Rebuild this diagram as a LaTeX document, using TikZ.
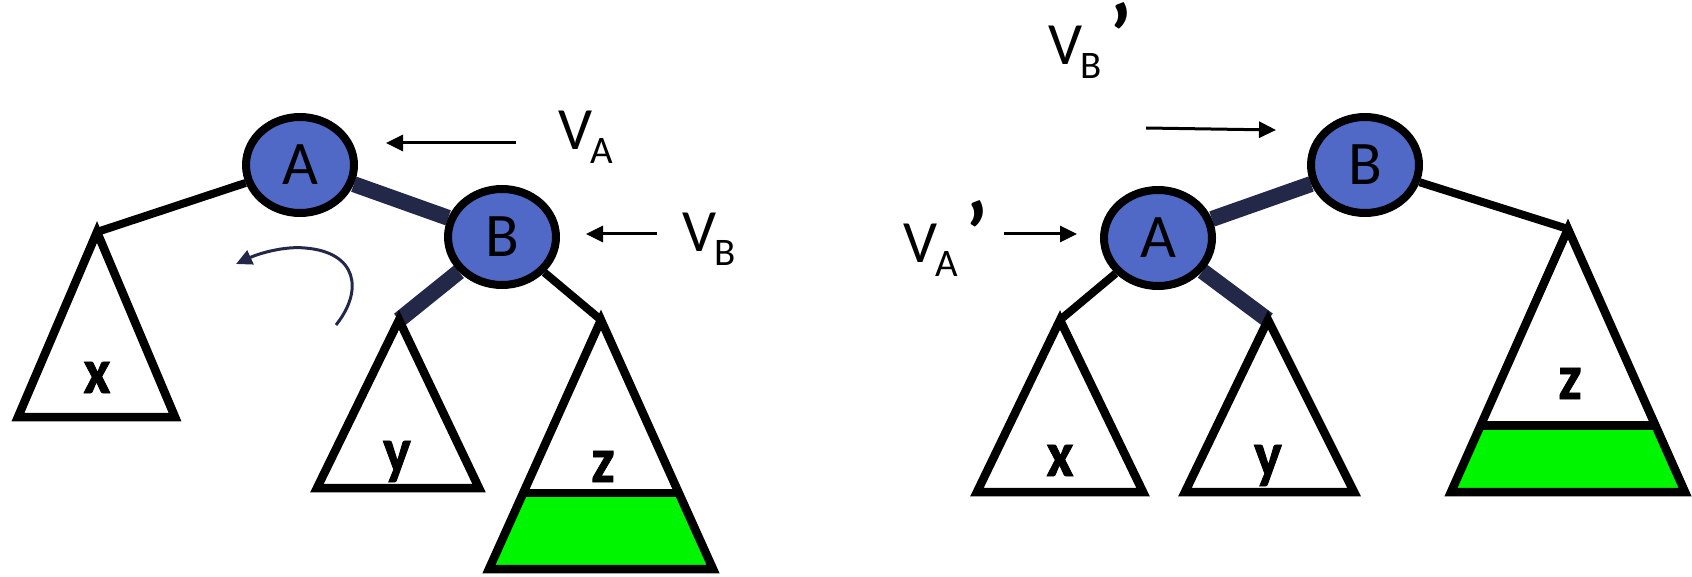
\documentclass[tikz,border=0pt]{standalone}
\usepackage{fontspec}
\setmainfont{Carlito}
\newfontfamily\leaffont[FakeStretch=0.92,FakeBold=1.2]{Carlito}
\usetikzlibrary{arrows.meta, calc, backgrounds, shapes.geometric}
\definecolor{nodecolor}{RGB}{80,104,198}
\definecolor{pathcolor}{RGB}{36,40,72}
\definecolor{growcolor}{RGB}{0,245,0}
\newcommand{\vlabel}[2]{V\kern-2pt\raisebox{-14pt}{\fontsize{39}{39}\selectfont #1}#2}
\newcommand{\vprime}{\kern8pt\raisebox{-2pt}{\fontsize{88}{88}\selectfont\bfseries ’}}

\begin{document}
\begin{tikzpicture}[
    x=1pt, y=-1pt,
    treenode/.style={ellipse, draw, line width=8pt, fill=nodecolor, minimum width=108pt, minimum height=96pt, inner sep=0pt, font=\fontsize{62}{62}\selectfont},
    edge/.style={line width=8pt},
    pathedge/.style={line width=16pt, draw=pathcolor},
    subtree/.style={line width=8.5pt},
    leaf/.style={anchor=base, inner sep=0pt, font=\leaffont\bfseries\fontsize{64}{64}\selectfont},
    vlab/.style={anchor=base west, inner sep=0pt, font=\fontsize{60}{60}\selectfont},
    arrow/.style={-{Triangle[length=17pt,width=16pt]}, line width=3pt},
    rotarrow/.style={-{Triangle[length=16pt,width=15pt]}, line width=3pt, draw=pathcolor}
]
\useasboundingbox (0,0) rectangle (1692,577);

\node[treenode] (A) at (300,165) {A};
\node[treenode] (B) at (502,237) {B};
\coordinate (xtop) at (97,232);
\coordinate (ytop) at (399,320);
\coordinate (ztop) at (601,320);
\coordinate (zl) at (489,569);
\coordinate (zr) at (713,569);

\draw[subtree] (xtop) -- (18,417) -- (175,417) -- cycle;
\draw[subtree] (ytop) -- (317,488) -- (479,488) -- cycle;
\fill[growcolor] ($(ztop)!0.694!(zl)$) -- (zl) -- (zr) -- ($(ztop)!0.694!(zr)$) -- cycle;
\draw[subtree] (ztop) -- (zl) -- (zr) -- cycle;
\draw[subtree] ($(ztop)!0.694!(zl)$) -- ($(ztop)!0.694!(zr)$);

\node[leaf] (xlab) at (97,393) {x};
\node[leaf] (ylab) at (397,472) {y};
\node[leaf] (zlab) at (603,482) {z};

\begin{scope}[on background layer]
\draw[edge] (A) -- (xtop);
\draw[pathedge] (A) -- (B);
\draw[pathedge] (B) -- (ytop);
\draw[edge] (B) -- (ztop);
\end{scope}

\node[vlab] (va) at (558,150) {\vlabel{A}{}};
\node[vlab] (vb) at (682,252) {\vlabel{B}{}};
\coordinate (vatail) at (516,143);
\coordinate (vatip) at (386,143);
\coordinate (vbtail) at (657,234);
\coordinate (vbtip) at (586,234);
\draw[arrow] (vatail) -- (vatip);
\draw[arrow] (vbtail) -- (vbtip);

\coordinate (rotstart) at (336,325);
\coordinate (rotmid) at (305,248);
\coordinate (rotend) at (236,264);
\draw[rotarrow] (rotstart) .. controls (364,290) and (357,252) .. (rotmid) .. controls (285,246) and (260,253) .. (rotend);

\node[treenode] (A2) at (1158,238) {A};
\node[treenode] (B2) at (1365,165) {B};
\coordinate (x2top) at (1060,320);
\coordinate (y2top) at (1268,320);
\coordinate (z2top) at (1568,229);
\coordinate (z2l) at (1451,492);
\coordinate (z2r) at (1685,492);

\draw[subtree] (x2top) -- (977,492) -- (1143,492) -- cycle;
\draw[subtree] (y2top) -- (1185,492) -- (1354,492) -- cycle;
\fill[growcolor] ($(z2top)!0.747!(z2l)$) -- (z2l) -- (z2r) -- ($(z2top)!0.747!(z2r)$) -- cycle;
\draw[subtree] (z2top) -- (z2l) -- (z2r) -- cycle;
\draw[subtree] ($(z2top)!0.747!(z2l)$) -- ($(z2top)!0.747!(z2r)$);

\node[leaf] (x2lab) at (1060,476) {x};
\node[leaf] (y2lab) at (1268,476) {y};
\node[leaf] (z2lab) at (1570,399) {z};

\begin{scope}[on background layer]
\draw[pathedge] (A2) -- (B2);
\draw[edge] (B2) -- (z2top);
\draw[edge] (A2) -- (x2top);
\draw[pathedge] (A2) -- (y2top);
\end{scope}

\node[vlab] (vbp) at (1048,65) {\vlabel{B}{\vprime}};
\node[vlab] (vap) at (903,263) {\vlabel{A}{\vprime}};
\coordinate (vbptail) at (1146,128);
\coordinate (vbptip) at (1276,130);
\coordinate (vaptail) at (1004,234);
\coordinate (vaptip) at (1077,234);
\draw[arrow] (vbptail) -- (vbptip);
\draw[arrow] (vaptail) -- (vaptip);

\end{tikzpicture}
\end{document}
